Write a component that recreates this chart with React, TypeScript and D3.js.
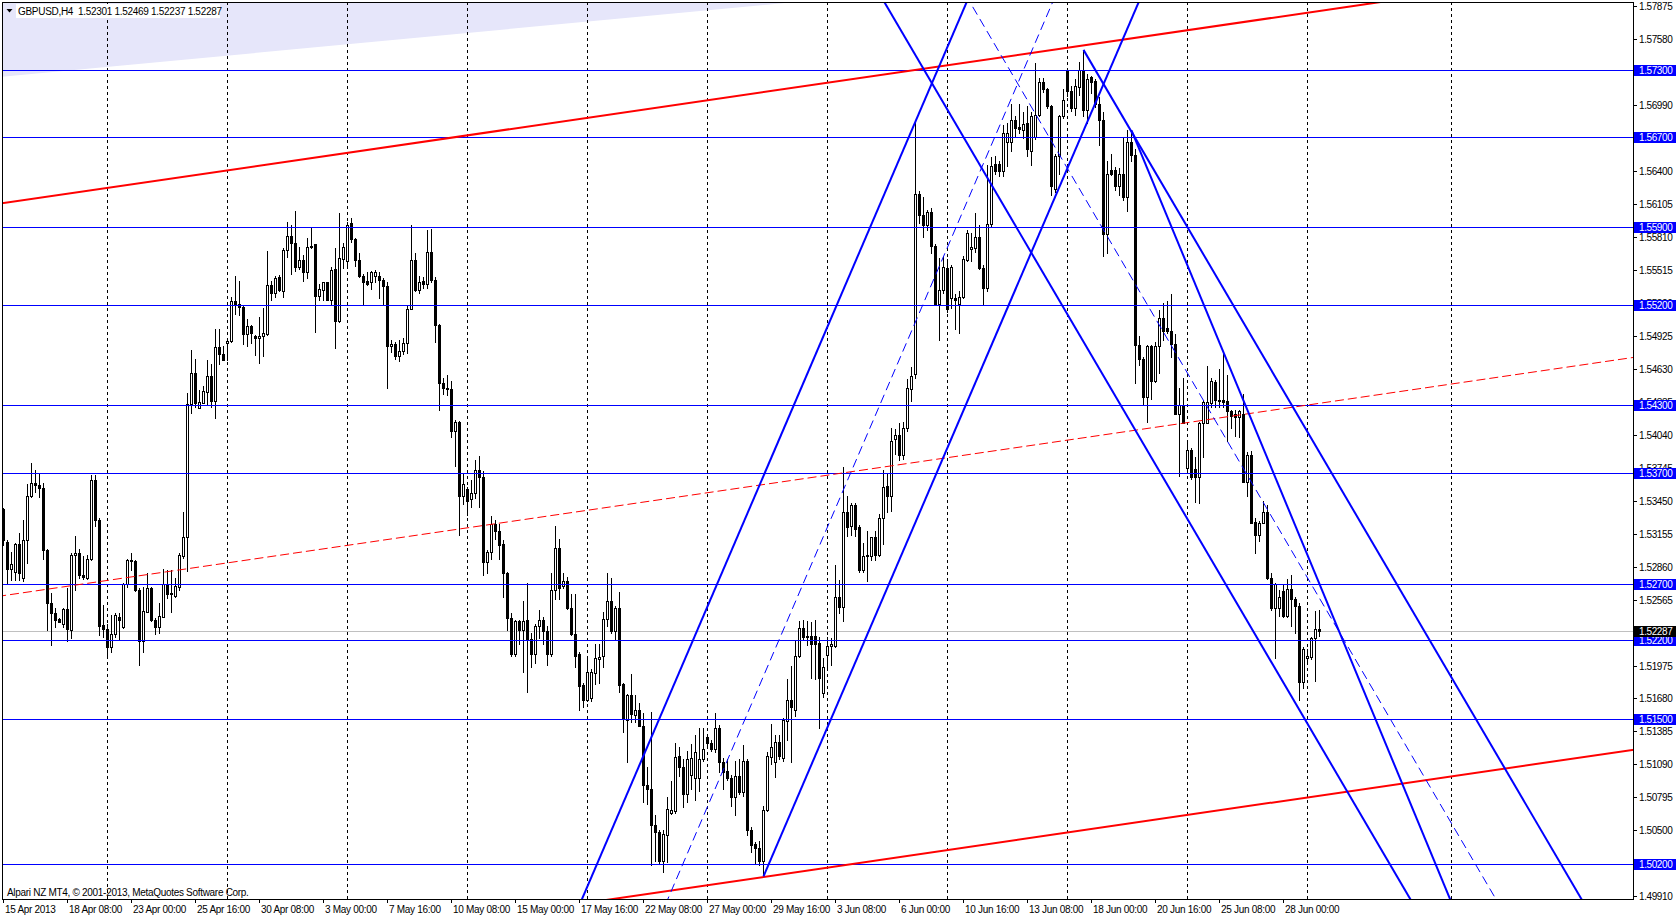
import React, { useEffect } from 'react';
import * as d3 from 'd3';

const W = 1676;
const H = 917;
const PL = 2, PT = 2, PR = 1633, PB = 899;

// GBPUSD H4 OHLC, bar 0 = 15 Apr 2013 16:00
const opens = [1.5337,1.5308,1.5284,1.5281,1.5306,1.5276,1.5310,1.5349,1.5361,1.5359,1.5356,1.5301,1.5253,1.5244,1.5239,1.5235,1.5248,1.5229,1.5296,1.5298,1.5278,1.5276,1.5293,1.5363,1.5328,1.5234,1.5230,1.5214,1.5226,1.5241,1.5232,1.5270,1.5291,1.5291,1.5265,1.5219,1.5245,1.5267,1.5238,1.5232,1.5241,1.5270,1.5261,1.5260,1.5268,1.5295,1.5312,1.5431,1.5459,1.5428,1.5432,1.5442,1.5456,1.5434,1.5482,1.5476,1.5486,1.5488,1.5523,1.5521,1.5518,1.5494,1.5501,1.5492,1.5490,1.5492,1.5494,1.5538,1.5531,1.5545,1.5532,1.5569,1.5582,1.5575,1.5554,1.5560,1.5549,1.5572,1.5574,1.5528,1.5533,1.5540,1.5524,1.5552,1.5506,1.5561,1.5559,1.5593,1.5579,1.5560,1.5546,1.5541,1.5540,1.5546,1.5546,1.5542,1.5537,1.5483,1.5485,1.5474,1.5479,1.5486,1.5516,1.5560,1.5533,1.5541,1.5539,1.5567,1.5542,1.5502,1.5450,1.5446,1.5445,1.5407,1.5415,1.5349,1.5355,1.5346,1.5352,1.5372,1.5366,1.5290,1.5299,1.5324,1.5318,1.5306,1.5280,1.5240,1.5208,1.5237,1.5229,1.5238,1.5221,1.5208,1.5233,1.5238,1.5228,1.5208,1.5265,1.5303,1.5269,1.5273,1.5249,1.5226,1.5208,1.5180,1.5167,1.5168,1.5191,1.5203,1.5206,1.5239,1.5255,1.5228,1.5249,1.5181,1.5149,1.5171,1.5153,1.5158,1.5143,1.5091,1.5087,1.5055,1.5049,1.5023,1.5046,1.5066,1.5067,1.5117,1.5107,1.5083,1.5100,1.5097,1.5097,1.5114,1.5134,1.5128,1.5123,1.5142,1.5111,1.5103,1.5097,1.5080,1.5099,1.5084,1.5112,1.5050,1.5038,1.5034,1.5023,1.5068,1.5116,1.5111,1.5129,1.5115,1.5148,1.5167,1.5158,1.5206,1.5231,1.5223,1.5224,1.5224,1.5218,1.5173,1.5207,1.5215,1.5215,1.5259,1.5250,1.5335,1.5322,1.5341,1.5321,1.5283,1.5295,1.5295,1.5312,1.5296,1.5329,1.5358,1.5349,1.5400,1.5404,1.5386,1.5410,1.5445,1.5458,1.5619,1.5600,1.5591,1.5603,1.5573,1.5521,1.5533,1.5553,1.5526,1.5526,1.5521,1.5527,1.5560,1.5570,1.5571,1.5581,1.5553,1.5535,1.5592,1.5646,1.5646,1.5640,1.5666,1.5666,1.5685,1.5679,1.5676,1.5683,1.5658,1.5670,1.5690,1.5719,1.5713,1.5698,1.5624,1.5653,1.5689,1.5730,1.5711,1.5696,1.5715,1.5730,1.5694,1.5724,1.5720,1.5700,1.5685,1.5583,1.5641,1.5641,1.5626,1.5637,1.5616,1.5666,1.5654,1.5484,1.5472,1.5438,1.5483,1.5452,1.5483,1.5508,1.5499,1.5497,1.5485,1.5422,1.5430,1.5374,1.5390,1.5373,1.5366,1.5414,1.5414,1.5432,1.5451,1.5435,1.5435,1.5434,1.5425,1.5422,1.5420,1.5422,1.5362,1.5386,1.5326,1.5314,1.5325,1.5335,1.5276,1.5249,1.5249,1.5264,1.5242,1.5266,1.5257,1.5251,1.5183,1.5204,1.5205,1.5222,1.52301];
const highs = [1.5338,1.5310,1.5299,1.5307,1.5316,1.5328,1.5360,1.5379,1.5372,1.5370,1.5361,1.5302,1.5262,1.5249,1.5240,1.5249,1.5267,1.5298,1.5313,1.5302,1.5295,1.5296,1.5368,1.5368,1.5329,1.5252,1.5235,1.5243,1.5244,1.5244,1.5271,1.5293,1.5298,1.5292,1.5267,1.5268,1.5280,1.5268,1.5240,1.5253,1.5284,1.5283,1.5283,1.5276,1.5298,1.5335,1.5441,1.5480,1.5472,1.5444,1.5447,1.5471,1.5467,1.5498,1.5498,1.5483,1.5489,1.5527,1.5546,1.5541,1.5520,1.5507,1.5502,1.5493,1.5509,1.5517,1.5568,1.5541,1.5546,1.5547,1.5571,1.5594,1.5591,1.5604,1.5572,1.5565,1.5580,1.5590,1.5574,1.5539,1.5540,1.5540,1.5554,1.5571,1.5602,1.5575,1.5594,1.5598,1.5580,1.5566,1.5548,1.5549,1.5550,1.5551,1.5549,1.5544,1.5540,1.5489,1.5487,1.5489,1.5490,1.5520,1.5591,1.5566,1.5546,1.5545,1.5587,1.5588,1.5545,1.5503,1.5455,1.5457,1.5452,1.5417,1.5416,1.5369,1.5357,1.5363,1.5381,1.5385,1.5371,1.5301,1.5331,1.5328,1.5324,1.5310,1.5281,1.5244,1.5238,1.5238,1.5255,1.5271,1.5227,1.5235,1.5247,1.5241,1.5233,1.5280,1.5322,1.5311,1.5280,1.5277,1.5261,1.5261,1.5210,1.5182,1.5206,1.5194,1.5217,1.5217,1.5245,1.5280,1.5276,1.5251,1.5263,1.5182,1.5172,1.5190,1.5171,1.5164,1.5155,1.5107,1.5156,1.5064,1.5050,1.5050,1.5080,1.5094,1.5128,1.5125,1.5114,1.5121,1.5127,1.5135,1.5142,1.5142,1.5136,1.5131,1.5155,1.5144,1.5115,1.5114,1.5100,1.5112,1.5114,1.5126,1.5114,1.5053,1.5040,1.5041,1.5072,1.5120,1.5145,1.5135,1.5135,1.5151,1.5185,1.5197,1.5219,1.5237,1.5238,1.5237,1.5236,1.5238,1.5223,1.5204,1.5223,1.5222,1.5287,1.5274,1.5375,1.5349,1.5343,1.5343,1.5323,1.5307,1.5318,1.5312,1.5318,1.5333,1.5372,1.5369,1.5410,1.5409,1.5414,1.5415,1.5454,1.5464,1.5684,1.5622,1.5616,1.5605,1.5607,1.5574,1.5562,1.5564,1.5561,1.5556,1.5530,1.5532,1.5564,1.5587,1.5584,1.5602,1.5591,1.5556,1.5645,1.5652,1.5653,1.5649,1.5681,1.5683,1.5700,1.5689,1.5700,1.5692,1.5698,1.5692,1.5736,1.5723,1.5723,1.5714,1.5699,1.5655,1.5690,1.5713,1.5731,1.5716,1.5722,1.5737,1.5748,1.5726,1.5725,1.5722,1.5706,1.5692,1.5649,1.5655,1.5643,1.5642,1.5669,1.5676,1.5676,1.5659,1.5492,1.5473,1.5484,1.5484,1.5487,1.5515,1.5522,1.5523,1.5530,1.5494,1.5446,1.5455,1.5399,1.5392,1.5384,1.5415,1.5435,1.5465,1.5455,1.5453,1.5463,1.5476,1.5457,1.5426,1.5426,1.5426,1.5440,1.5388,1.5389,1.5329,1.5327,1.5345,1.5341,1.5280,1.5271,1.5265,1.5270,1.5275,1.5278,1.5259,1.5253,1.5214,1.5212,1.5223,1.5246,1.52469];
const lows = [1.5305,1.5271,1.5274,1.5274,1.5274,1.5273,1.5289,1.5348,1.5353,1.5348,1.5293,1.5229,1.5216,1.5232,1.5236,1.5232,1.5219,1.5222,1.5265,1.5276,1.5275,1.5275,1.5292,1.5322,1.5225,1.5223,1.5207,1.5210,1.5223,1.5220,1.5231,1.5268,1.5283,1.5264,1.5198,1.5210,1.5245,1.5237,1.5226,1.5227,1.5241,1.5258,1.5245,1.5259,1.5265,1.5294,1.5282,1.5423,1.5429,1.5428,1.5432,1.5431,1.5429,1.5419,1.5467,1.5471,1.5471,1.5487,1.5512,1.5511,1.5485,1.5483,1.5486,1.5475,1.5468,1.5474,1.5493,1.5524,1.5527,1.5532,1.5527,1.5563,1.5548,1.5550,1.5552,1.5541,1.5544,1.5571,1.5496,1.5524,1.5524,1.5524,1.5521,1.5481,1.5505,1.5553,1.5554,1.5576,1.5555,1.5545,1.5521,1.5538,1.5534,1.5540,1.5526,1.5521,1.5446,1.5478,1.5472,1.5470,1.5476,1.5477,1.5516,1.5532,1.5531,1.5535,1.5535,1.5540,1.5487,1.5426,1.5440,1.5439,1.5402,1.5376,1.5314,1.5342,1.5332,1.5339,1.5347,1.5339,1.5278,1.5280,1.5293,1.5311,1.5293,1.5259,1.5229,1.5206,1.5206,1.5217,1.5192,1.5174,1.5196,1.5200,1.5222,1.5217,1.5198,1.5206,1.5257,1.5257,1.5267,1.5248,1.5225,1.5196,1.5158,1.5160,1.5166,1.5166,1.5181,1.5182,1.5196,1.5233,1.5227,1.5221,1.5174,1.5138,1.5111,1.5147,1.5147,1.5143,1.5075,1.5074,1.5019,1.5023,1.5021,1.5013,1.5022,1.5065,1.5066,1.5099,1.5071,1.5075,1.5087,1.5077,1.5085,1.5112,1.5125,1.5121,1.5120,1.5102,1.5087,1.5095,1.5072,1.5064,1.5083,1.5081,1.5046,1.5031,1.5020,1.5019,1.5009,1.5067,1.5109,1.5098,1.5114,1.5112,1.5131,1.5111,1.5152,1.5205,1.5221,1.5216,1.5186,1.5185,1.5142,1.5169,1.5194,1.5198,1.5214,1.5244,1.5237,1.5313,1.5314,1.5313,1.5281,1.5281,1.5273,1.5292,1.5292,1.5295,1.5306,1.5335,1.5336,1.5387,1.5381,1.5382,1.5407,1.5434,1.5455,1.5593,1.5581,1.5587,1.5566,1.5520,1.5489,1.5531,1.5514,1.5517,1.5498,1.5495,1.5526,1.5559,1.5559,1.5567,1.5552,1.5521,1.5532,1.5590,1.5637,1.5635,1.5635,1.5644,1.5658,1.5670,1.5674,1.5669,1.5653,1.5645,1.5668,1.5689,1.5710,1.5696,1.5618,1.5621,1.5637,1.5687,1.5707,1.5693,1.5690,1.5708,1.5689,1.5683,1.5709,1.5697,1.5663,1.5564,1.5566,1.5636,1.5623,1.5618,1.5614,1.5604,1.5649,1.5450,1.5466,1.5431,1.5415,1.5436,1.5451,1.5459,1.5489,1.5495,1.5473,1.5422,1.5367,1.5414,1.5372,1.5364,1.5344,1.5343,1.5384,1.5414,1.5429,1.5429,1.5429,1.5429,1.5398,1.5410,1.5403,1.5402,1.5362,1.5349,1.5325,1.5298,1.5309,1.5325,1.5275,1.5247,1.5204,1.5242,1.5241,1.5241,1.5233,1.5227,1.5167,1.5177,1.5200,1.5203,1.5184,1.52237];
const closes = [1.5310,1.5284,1.5288,1.5306,1.5280,1.5310,1.5349,1.5361,1.5359,1.5356,1.5301,1.5253,1.5244,1.5238,1.5236,1.5248,1.5230,1.5296,1.5298,1.5278,1.5277,1.5293,1.5363,1.5328,1.5233,1.5230,1.5214,1.5226,1.5243,1.5238,1.5270,1.5292,1.5292,1.5265,1.5219,1.5246,1.5267,1.5238,1.5232,1.5242,1.5270,1.5261,1.5262,1.5269,1.5296,1.5312,1.5431,1.5459,1.5432,1.5433,1.5443,1.5456,1.5434,1.5482,1.5476,1.5471,1.5488,1.5523,1.5521,1.5518,1.5494,1.5501,1.5495,1.5490,1.5492,1.5495,1.5538,1.5531,1.5544,1.5533,1.5569,1.5582,1.5575,1.5554,1.5560,1.5549,1.5572,1.5573,1.5528,1.5534,1.5540,1.5524,1.5551,1.5506,1.5562,1.5572,1.5591,1.5579,1.5560,1.5546,1.5540,1.5539,1.5549,1.5549,1.5542,1.5537,1.5483,1.5485,1.5474,1.5479,1.5486,1.5516,1.5560,1.5533,1.5540,1.5539,1.5567,1.5542,1.5502,1.5450,1.5446,1.5445,1.5407,1.5415,1.5349,1.5360,1.5345,1.5352,1.5372,1.5366,1.5290,1.5299,1.5324,1.5318,1.5305,1.5280,1.5240,1.5208,1.5237,1.5229,1.5237,1.5221,1.5208,1.5233,1.5238,1.5228,1.5208,1.5265,1.5303,1.5267,1.5273,1.5249,1.5226,1.5206,1.5179,1.5167,1.5192,1.5192,1.5204,1.5205,1.5239,1.5255,1.5228,1.5249,1.5180,1.5151,1.5171,1.5154,1.5158,1.5143,1.5091,1.5087,1.5055,1.5049,1.5023,1.5047,1.5069,1.5068,1.5116,1.5107,1.5083,1.5114,1.5115,1.5120,1.5114,1.5123,1.5128,1.5123,1.5142,1.5111,1.5102,1.5097,1.5080,1.5099,1.5084,1.5112,1.5050,1.5037,1.5034,1.5023,1.5068,1.5117,1.5125,1.5129,1.5117,1.5149,1.5167,1.5160,1.5206,1.5231,1.5223,1.5224,1.5217,1.5217,1.5186,1.5196,1.5215,1.5217,1.5259,1.5250,1.5335,1.5321,1.5341,1.5320,1.5283,1.5295,1.5296,1.5312,1.5296,1.5329,1.5357,1.5349,1.5398,1.5404,1.5386,1.5410,1.5446,1.5456,1.5619,1.5600,1.5591,1.5603,1.5573,1.5520,1.5533,1.5554,1.5516,1.5554,1.5524,1.5527,1.5561,1.5584,1.5572,1.5581,1.5553,1.5535,1.5592,1.5644,1.5640,1.5640,1.5674,1.5674,1.5685,1.5678,1.5677,1.5682,1.5659,1.5689,1.5690,1.5719,1.5713,1.5698,1.5626,1.5653,1.5689,1.5703,1.5711,1.5696,1.5716,1.5730,1.5694,1.5722,1.5719,1.5700,1.5685,1.5583,1.5637,1.5637,1.5626,1.5637,1.5616,1.5666,1.5654,1.5484,1.5472,1.5438,1.5483,1.5452,1.5483,1.5508,1.5497,1.5497,1.5485,1.5422,1.5430,1.5414,1.5390,1.5366,1.5366,1.5414,1.5433,1.5433,1.5452,1.5435,1.5434,1.5433,1.5425,1.5421,1.5420,1.5425,1.5362,1.5386,1.5325,1.5314,1.5325,1.5335,1.5276,1.5249,1.5270,1.5259,1.5242,1.5266,1.5257,1.5251,1.5183,1.5212,1.5206,1.5222,1.5230,1.52287];

const timeLabels = ['15 Apr 2013','18 Apr 08:00','23 Apr 00:00','25 Apr 16:00','30 Apr 08:00','3 May 00:00','7 May 16:00','10 May 08:00','15 May 00:00','17 May 16:00','22 May 08:00','27 May 00:00','29 May 16:00','3 Jun 08:00','6 Jun 00:00','10 Jun 16:00','13 Jun 08:00','18 Jun 00:00','20 Jun 16:00','25 Jun 08:00','28 Jun 00:00'];
const barsPerLabel = 16;
const weekGridBars = [26, 56, 86, 116, 146, 176, 206, 236, 266, 296, 326, 362];
const priceTicks = [1.49910,1.50205,1.50500,1.50795,1.51090,1.51385,1.51680,1.51975,1.52270,1.52565,1.52860,1.53155,1.53450,1.53745,1.54040,1.54335,1.54630,1.54925,1.55220,1.55515,1.55810,1.56105,1.56400,1.56695,1.56990,1.57285,1.57580,1.57875];
const levels = [1.573, 1.567, 1.559, 1.552, 1.543, 1.537, 1.527, 1.522, 1.515, 1.502];
const lastPrice = 1.52287;
const header = 'GBPUSD,H4  1.52301 1.52469 1.52237 1.52287';

// drawn objects: anchor points [bar, price]
const redUpper = [[0, 1.5611], [270, 1.5752]];
const redLower = [[0, 1.4909], [190, 1.50084]];
const blueUpA = [[160, 1.51169], [228, 1.5684]];
const blueUpB = [[190, 1.5009], [250, 1.5509]];
const blueDownD = [[270, 1.5748], [330, 1.5382]];
const blueDownC = [[270, 1.5487], [330, 1.5121]];
const blueDownE = [[282, 1.5676], [330, 1.52617]];
const shadeEdge = [[0, 1.5724], [200, 1.57915]];

const x = d3.scaleLinear().domain([0, 100]).range([3.5, 403.5]);
const y = d3.scaleLinear().domain([1.502, 1.573]).range([864, 70]);

const FONT = "'Liberation Sans', Arial, sans-serif";

function priceAt(line: number[][], bar: number) {
  const [[b1, p1], [b2, p2]] = line;
  return p1 + ((p2 - p1) / (b2 - b1)) * (bar - b1);
}

function midLine(a: number[][], b: number[][], b1: number, b2: number) {
  return [
    [b1, (priceAt(a, b1) + priceAt(b, b1)) / 2],
    [b2, (priceAt(a, b2) + priceAt(b, b2)) / 2],
  ];
}

function seg(pts: number[][], ray: boolean) {
  const x1 = x(pts[0][0]), y1 = y(pts[0][1]);
  const x2 = x(pts[1][0]), y2 = y(pts[1][1]);
  const k = (y2 - y1) / (x2 - x1);
  const xs = ray ? x1 : -3000;
  const xe = 5000;
  return { x1: xs, y1: y1 + (xs - x1) * k, x2: xe, y2: y1 + (xe - x1) * k };
}

const cy = (v: number) => Math.round(y(v)) + 0.5;

export default function App() {
  useEffect(() => {
    document.body.style.margin = '0';
    document.body.style.overflow = 'hidden';
  }, []);

  const redMid = midLine(redUpper, redLower, 0, 300);
  const upMid = midLine(blueUpA, blueUpB, 190, 250);
  const downMid = midLine(blueDownD, blueDownC, 270, 330);

  const sA = seg(shadeEdge, false);
  const shadePts = `${sA.x1},${sA.y1} ${sA.x2},${sA.y2} ${sA.x2},-5000 ${sA.x1},-5000`;

  const lines: { s: ReturnType<typeof seg>; color: string; w: number; dash?: string }[] = [
    { s: seg(redUpper, false), color: '#FF0000', w: 2 },
    { s: seg(redLower, false), color: '#FF0000', w: 2 },
    { s: seg(redMid, false), color: '#FF0000', w: 1, dash: '9,4' },
    { s: seg(blueUpA, false), color: '#0000FF', w: 2 },
    { s: seg(blueUpB, true), color: '#0000FF', w: 2 },
    { s: seg(upMid, false), color: '#0000FF', w: 1, dash: '9,5' },
    { s: seg(blueDownC, false), color: '#0000FF', w: 2 },
    { s: seg(blueDownD, true), color: '#0000FF', w: 2 },
    { s: seg(downMid, false), color: '#0000FF', w: 1, dash: '9,5' },
    { s: seg(blueDownE, true), color: '#0000FF', w: 2 },
  ];

  return (
    <svg width={W} height={H} style={{ position: 'absolute', left: 0, top: 0, display: 'block' }} fontFamily={FONT}>
      <defs>
        <clipPath id="plot">
          <rect x={PL + 0.5} y={PT + 0.5} width={PR - PL} height={PB - PT} />
        </clipPath>
      </defs>
      <rect x={0} y={0} width={W} height={H} fill="#fff" />
      <g clipPath="url(#plot)">
        <polygon points={shadePts} fill="#E6E6FA" />
        {weekGridBars.map((b) => (
          <line key={b} x1={x(b)} x2={x(b)} y1={PT} y2={PB} stroke="#000" strokeDasharray="3,3" />
        ))}
        <line x1={PL} x2={PR} y1={cy(lastPrice)} y2={cy(lastPrice)} stroke="#C0C0C0" />
        {opens.map((o, i) => {
          const cx = x(i);
          const c = closes[i];
          const yh = Math.round(y(highs[i]));
          const yl = Math.round(y(lows[i]));
          const yt = Math.round(y(Math.max(o, c)));
          const yb = Math.round(y(Math.min(o, c)));
          const bull = c > o;
          return (
            <g key={i}>
              <line x1={cx} x2={cx} y1={yh} y2={yl + 1} stroke="#000" />
              {yb - yt < 1 ? (
                <line x1={cx - 1.5} x2={cx + 1.5} y1={yt + 0.5} y2={yt + 0.5} stroke="#000" />
              ) : (
                <rect x={cx - 1} y={yt + 0.5} width={2} height={yb - yt} fill={bull ? '#fff' : '#000'} stroke="#000" />
              )}
            </g>
          );
        })}
        {levels.map((v) => (
          <line key={v} x1={PL} x2={PR} y1={cy(v)} y2={cy(v)} stroke="#0000FF" />
        ))}
        {lines.map((l, i) => (
          <line key={i} x1={l.s.x1} y1={l.s.y1} x2={l.s.x2} y2={l.s.y2} stroke={l.color} strokeWidth={l.w} strokeDasharray={l.dash} />
        ))}
      </g>
      <rect x={PL + 0.5} y={PT + 0.5} width={PR - PL} height={PB - PT} fill="none" stroke="#000" />

      {/* header */}
      <rect x={16} y={4} width={204} height={14} fill="#fff" />
      <polygon points="6.5,9 12.5,9 9.5,12.5" fill="#000" />
      <text x={18} y={14.5} fontSize={10} letterSpacing={-0.3} style={{ whiteSpace: 'pre' }} fill="#000">{header}</text>
      <text x={7} y={895.5} fontSize={10} letterSpacing={-0.3} fill="#000">Alpari NZ MT4, © 2001-2013, MetaQuotes Software Corp.</text>

      {/* price axis */}
      {priceTicks.map((v) => (
        <g key={v}>
          <line x1={PR} x2={PR + 4} y1={cy(v)} y2={cy(v)} stroke="#000" />
          <text x={1639} y={cy(v) + 3.5} fontSize={10} letterSpacing={-0.4} fill="#000">{v.toFixed(5)}</text>
        </g>
      ))}
      {levels.map((v) => (
        <g key={v}>
          <rect x={1634} y={Math.round(y(v)) - 5} width={42} height={11} fill="#0000FF" />
          <text x={1639} y={cy(v) + 3.5} fontSize={10} letterSpacing={-0.4} fill="#fff">{v.toFixed(5)}</text>
        </g>
      ))}
      <rect x={1634} y={Math.round(y(lastPrice)) - 5} width={42} height={11} fill="#000" />
      <text x={1639} y={cy(lastPrice) + 3.5} fontSize={10} letterSpacing={-0.4} fill="#fff">{lastPrice.toFixed(5)}</text>

      {/* time axis */}
      {timeLabels.map((t, i) => {
        const tx = Math.round(x(i * barsPerLabel)) - 0.5;
        return (
          <g key={t}>
            <line x1={tx} x2={tx} y1={PB} y2={PB + 4} stroke="#000" />
            <text x={tx + 1.5} y={912.5} fontSize={10} letterSpacing={-0.3} fill="#000">{t}</text>
          </g>
        );
      })}
    </svg>
  );
}
